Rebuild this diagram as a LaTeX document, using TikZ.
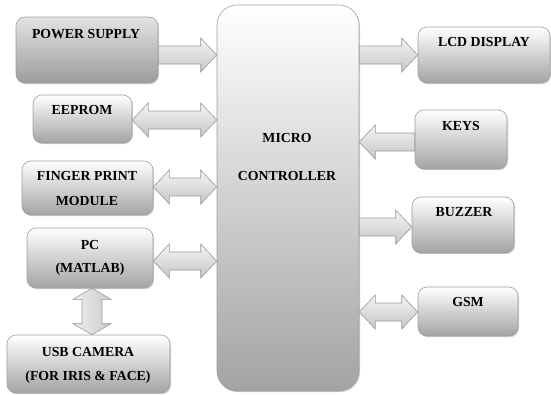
\documentclass[tikz,border=0pt]{standalone}
\usepackage{fontspec}
\setmainfont{Liberation Serif}
\usetikzlibrary{shadows,calc}
\tikzset{
  box/.style={draw=gray!75, line width=0.6pt, rounded corners=9pt, top color=white, middle color=gray!18, bottom color=gray!72,
    drop shadow={shadow xshift=1pt,shadow yshift=-1.2pt,opacity=0.35}},
  darkbox/.style={box, top color=gray!22, middle color=gray!40, bottom color=gray!78},
  bigbox/.style={box, top color=white, middle color=gray!25, bottom color=gray!72},
  lbl/.style={font=\fontsize{13.8}{16}\selectfont\bfseries, text=black, inner sep=0pt},
  fat/.style={draw=gray!80, line width=0.6pt, top color=gray!8, bottom color=gray!45},
  vfat/.style={draw=gray!80, line width=0.6pt, left color=gray!12, right color=gray!42},
}
% single arrow, head at #2 (to the right of #1), centre line at image y #3
\newcommand\rarr[3]{\path[fat] let \p1=(#1), \p2=(#2) in
  (\x1,-#3pt+9pt) -- (\x2-16pt,-#3pt+9pt) -- (\x2-16pt,-#3pt+17pt) -- (\x2,-#3pt)
  -- (\x2-16pt,-#3pt-17pt) -- (\x2-16pt,-#3pt-9pt) -- (\x1,-#3pt-9pt) -- cycle;}
% single arrow, head at #2 (to the left of #1)
\newcommand\larr[3]{\path[fat] let \p1=(#1), \p2=(#2) in
  (\x1,-#3pt+9pt) -- (\x2+16pt,-#3pt+9pt) -- (\x2+16pt,-#3pt+17pt) -- (\x2,-#3pt)
  -- (\x2+16pt,-#3pt-17pt) -- (\x2+16pt,-#3pt-9pt) -- (\x1,-#3pt-9pt) -- cycle;}
% double arrow, #1 left of #2
\newcommand\darr[3]{\path[fat] let \p1=(#1), \p2=(#2) in
  (\x1,-#3pt) -- (\x1+16pt,-#3pt+17pt) -- (\x1+16pt,-#3pt+9pt) -- (\x2-16pt,-#3pt+9pt)
  -- (\x2-16pt,-#3pt+17pt) -- (\x2,-#3pt) -- (\x2-16pt,-#3pt-17pt) -- (\x2-16pt,-#3pt-9pt)
  -- (\x1+16pt,-#3pt-9pt) -- (\x1+16pt,-#3pt-17pt) -- cycle;}
% vertical double arrow, #1 above #2, centre at image x #3
\newcommand\vdarr[3]{\path[vfat] let \p1=(#1), \p2=(#2) in
  (#3pt,\y1) -- (#3pt+19pt,\y1-11pt) -- (#3pt+10pt,\y1-11pt) -- (#3pt+10pt,\y2+11pt)
  -- (#3pt+19pt,\y2+11pt) -- (#3pt,\y2) -- (#3pt-19pt,\y2+11pt) -- (#3pt-10pt,\y2+11pt)
  -- (#3pt-10pt,\y1-11pt) -- (#3pt-19pt,\y1-11pt) -- cycle;}
\begin{document}
\begin{tikzpicture}[x=1pt,y=-1pt]
\useasboundingbox[fill=white] (0,0) rectangle (551,394);
% boxes
\node[darkbox, minimum width=142pt, minimum height=66pt] (PS) at (87,50) {};
\node[box, minimum width=99pt, minimum height=48pt] (EE) at (82.5,119) {};
\node[box, minimum width=131pt, minimum height=54pt] (FP) at (87.5,188) {};
\node[box, minimum width=126pt, minimum height=60pt] (PC) at (90,258) {};
\node[box, minimum width=163pt, minimum height=58pt] (USB) at (88.5,364) {};
\node[bigbox, rounded corners=20pt, minimum width=142pt, minimum height=386pt] (MC) at (288,198) {};
\node[box, minimum width=132pt, minimum height=56pt] (LCD) at (484,55) {};
\node[box, minimum width=92pt, minimum height=59pt] (KEYS) at (461,139.5) {};
\node[box, minimum width=102pt, minimum height=56pt] (BZ) at (463,225) {};
\node[box, minimum width=100pt, minimum height=49pt] (GSM) at (468,311.5) {};
% arrows
\rarr{PS.east}{MC.west}{55}
\darr{EE.east}{MC.west}{120}
\darr{FP.east}{MC.west}{187}
\darr{PC.east}{MC.west}{261}
\rarr{MC.east}{LCD.west}{55}
\larr{KEYS.west}{MC.east}{142}
\rarr{MC.east}{BZ.west}{227}
\darr{MC.east}{GSM.west}{312}
\vdarr{PC.south}{USB.north}{92}
% labels
\node[lbl] (tPS) at (86,34) {POWER SUPPLY};
\node[lbl] (tEE) at (82,110) {EEPROM};
\node[lbl] (tFP1) at (87,176) {FINGER PRINT};
\node[lbl] (tFP2) at (87,201) {MODULE};
\node[lbl] (tPC1) at (90,245) {PC};
\node[lbl] (tPC2) at (90,269) {(MATLAB)};
\node[lbl] (tUSB1) at (88,352) {USB CAMERA};
\node[lbl] (tUSB2) at (88,377) {(FOR IRIS \& FACE)};
\node[lbl] (tMC1) at (287,138) {MICRO};
\node[lbl] (tMC2) at (287,176) {CONTROLLER};
\node[lbl] (tLCD) at (484,42) {LCD DISPLAY};
\node[lbl] (tKEYS) at (461,126) {KEYS};
\node[lbl] (tBZ) at (464,212) {BUZZER};
\node[lbl] (tGSM) at (468,302) {GSM};
\end{tikzpicture}
\end{document}
